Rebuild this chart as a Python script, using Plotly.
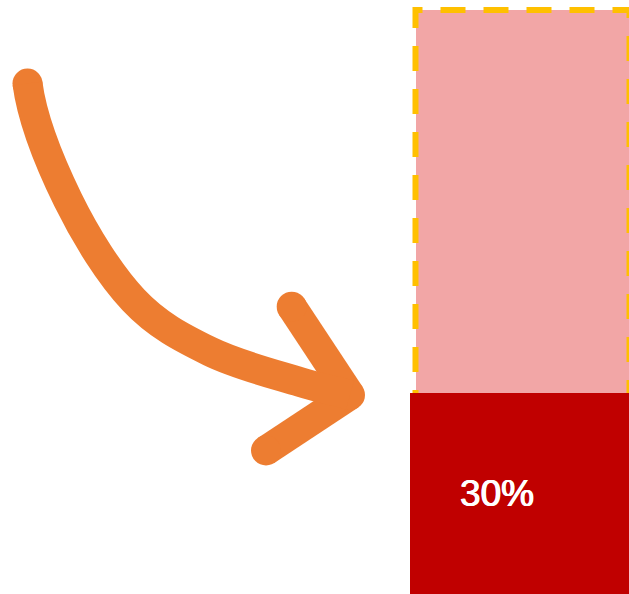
import plotly.graph_objects as go

# ---------------- data ----------------
categories = ["Share"]
highlight_values = [30]      # dark red part
remainder_values = [70]      # light pink remainder
bar_labels = ["30%"]

# ---------------- layout geometry (pixels) ----------------
W, H = 629, 594
PINK_LEFT, PINK_RIGHT = 415.5, 629.5
RED_LEFT = 410
Y_SPLIT_PX = 393
Y_TOP_PX = 10
LABEL_X_PX = 496.5

pink_w = 0.8
k = (PINK_RIGHT - PINK_LEFT) / pink_w          # px per x unit
cx = (PINK_LEFT + PINK_RIGHT) / 2
x_range = [-cx / k, (W - cx) / k]
red_w = 2 * (cx - RED_LEFT) / k
xs = list(range(len(categories)))

base = highlight_values[0]
total = highlight_values[0] + remainder_values[0]
s = (Y_SPLIT_PX - Y_TOP_PX) / remainder_values[0]   # px per y unit (pink)
yA_range = [base - (H - Y_SPLIT_PX) / s, total + Y_TOP_PX / s]
yB_range = [0, highlight_values[0] * H / (H - Y_SPLIT_PX)]

ORANGE = "#ED7D31"
PINK = "#F2A6A6"
RED = "#C00000"
YELLOW = "#FFC000"

fig = go.Figure()

# pink remainder bar
fig.add_trace(go.Bar(
    x=xs, y=remainder_values, base=highlight_values, width=[pink_w],
    marker=dict(color=PINK, line=dict(width=0)), name="remainder",
    hovertext=categories, xaxis="x", yaxis="y"))

# dashed outline around remainder (three sides, from bar geometry)
L = xs[0] - pink_w / 2
R = xs[0] + pink_w / 2
dash = "3px,18px," + ",".join(["25px,18px"] * 26)
fig.add_trace(go.Scatter(
    x=[L, L, R, R], y=[base, total, total, base], mode="lines",
    line=dict(color=YELLOW, width=6, dash=dash), hoverinfo="skip",
    xaxis="x", yaxis="y"))

# red highlight bar (overlay subplot so it sits on top)
fig.add_trace(go.Bar(
    x=xs, y=highlight_values, width=[red_w],
    marker=dict(color=RED, line=dict(width=0)), name="highlight",
    hovertext=categories, xaxis="x2", yaxis="y2"))

# ---------------- decorative curved arrow (pixel-space overlay axes) ----------------
AW = 30
way = [(27.5, 83.5), (68, 200), (133.5, 300), (210, 351.5), (300, 382), (350, 395)]
start_handle = (5, 38)
end_handle = (16, 4.7)


def smooth_path(p, h0, h1):
    d = "M %.2f,%.2f" % p[0]
    n = len(p)
    for i in range(n - 1):
        a, b = p[i], p[i + 1]
        if i == 0:
            c1 = (a[0] + h0[0], a[1] + h0[1])
        else:
            c1 = (a[0] + (b[0] - p[i - 1][0]) / 6, a[1] + (b[1] - p[i - 1][1]) / 6)
        if i == n - 2:
            c2 = (b[0] - h1[0], b[1] - h1[1])
        else:
            c2 = (b[0] - (p[i + 2][0] - a[0]) / 6, b[1] - (p[i + 2][1] - a[1]) / 6)
        d += " C %.2f,%.2f %.2f,%.2f %.2f,%.2f" % (c1 + c2 + b)
    return d


tip = way[-1]
arm1 = (291.7, 306.7)
arm2 = (266, 450.5)
fig.add_shape(type="path", path=smooth_path(way, start_handle, end_handle),
              xref="x3", yref="y3", line=dict(color=ORANGE, width=AW), layer="above")
fig.add_trace(go.Scatter(
    x=[arm1[0], tip[0], None, arm2[0], tip[0]],
    y=[arm1[1], tip[1], None, arm2[1], tip[1]], mode="lines",
    line=dict(color=ORANGE, width=AW), connectgaps=False,
    hoverinfo="skip", xaxis="x3", yaxis="y3"))
fig.add_trace(go.Scatter(
    x=[way[0][0], arm1[0], arm2[0], tip[0]],
    y=[way[0][1], arm1[1], arm2[1], tip[1]], mode="markers",
    marker=dict(color=ORANGE, size=AW, line=dict(width=0)),
    hoverinfo="skip", xaxis="x3", yaxis="y3"))

fig.add_annotation(
    x=(LABEL_X_PX - cx) / k, y=highlight_values[0] / 2, xref="x2", yref="y2",
    text=bar_labels[0], showarrow=False,
    font=dict(family="Liberation Sans, Arial, sans-serif", size=37, color="white",
              shadow="0.6px 0px 0px white, -0.6px 0px 0px white"))

hidden = dict(visible=False, showgrid=False, zeroline=False, fixedrange=True)
fig.update_layout(
    width=W, height=H, margin=dict(l=0, r=0, t=0, b=0, pad=0),
    paper_bgcolor="white", plot_bgcolor="rgba(0,0,0,0)",
    showlegend=False, barmode="overlay", bargap=0,
    xaxis=dict(range=x_range, domain=[0, 1], **hidden),
    yaxis=dict(range=yA_range, domain=[0, 1], **hidden),
    xaxis2=dict(range=x_range, overlaying="x", anchor="y2", **hidden),
    yaxis2=dict(range=yB_range, overlaying="y", anchor="x2", **hidden),
    xaxis3=dict(range=[0, W], overlaying="x", anchor="y3", **hidden),
    yaxis3=dict(range=[H, 0], overlaying="y", anchor="x3", **hidden),
)

fig.write_html("out.html")
